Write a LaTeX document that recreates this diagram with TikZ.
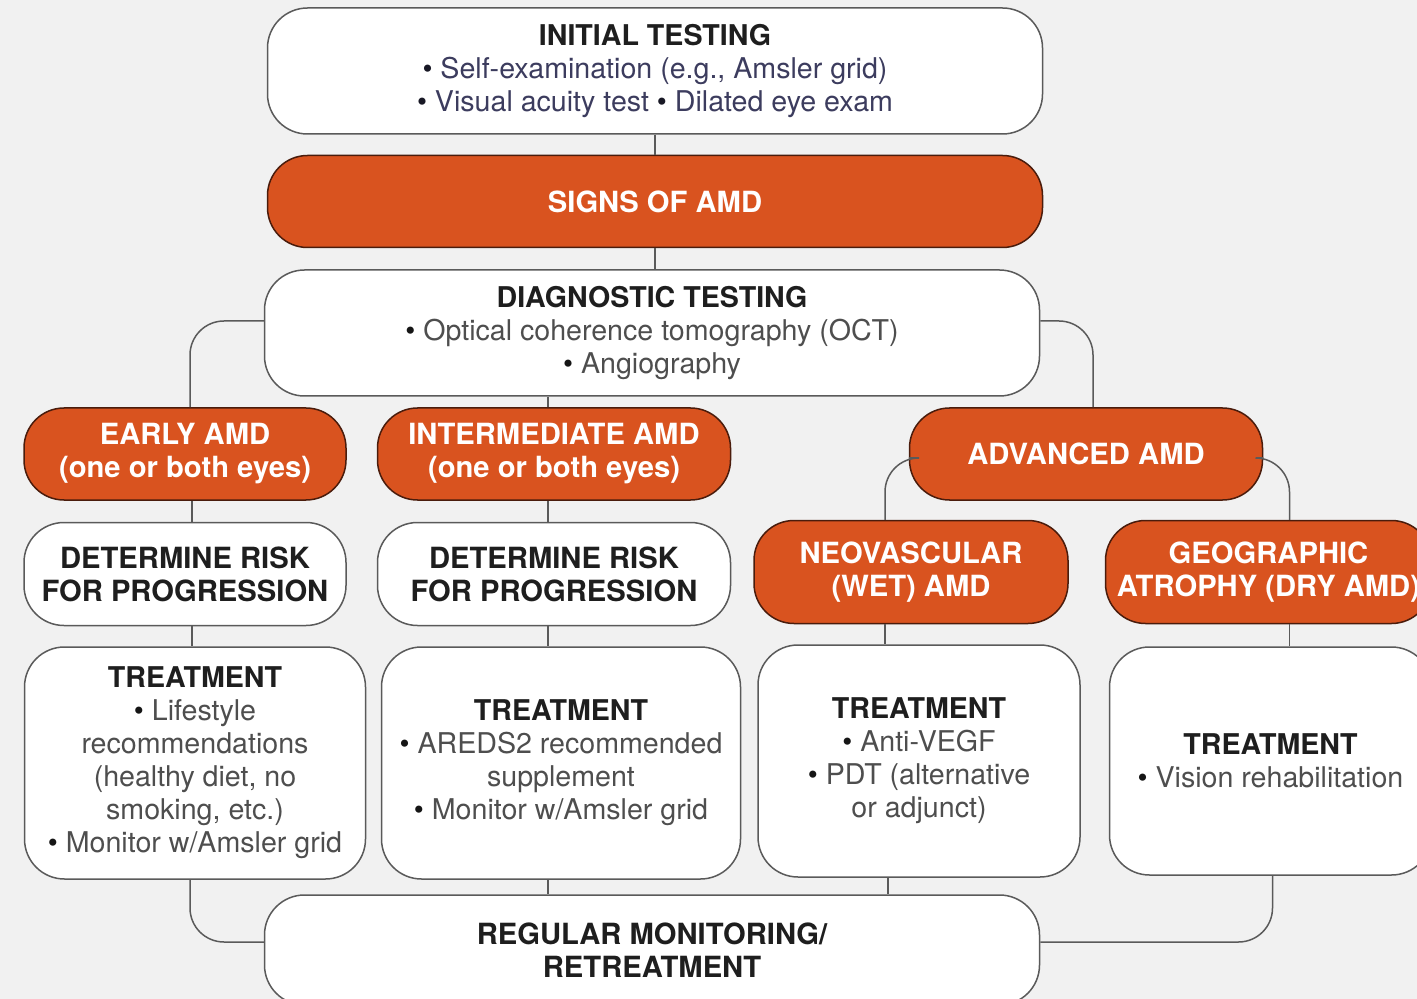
\documentclass[tikz,border=0pt]{standalone}
\usepackage{fontspec}
\setmainfont{TeX Gyre Heros}
\usepackage{tikz}
\usetikzlibrary{calc,positioning}

\definecolor{bgcol}{HTML}{F1F1F1}
\definecolor{amdorange}{HTML}{D9531F}
\definecolor{amdedge}{HTML}{4A1C0C}
\definecolor{boxedge}{HTML}{5A5A5A}
\definecolor{titlecol}{HTML}{1E1E1E}
\definecolor{bodycol}{HTML}{4E4E4E}
\definecolor{navycol}{HTML}{3C3C5E}
\definecolor{bulletcol}{HTML}{151515}

\newcommand{\bul}{{\color{bulletcol}\textbullet}}

\begin{document}
\begin{tikzpicture}[x=0.5pt,y=-0.5pt]
    \tikzstyle{whitebox}=[rectangle, rounded corners=20pt, draw=boxedge, line width=0.75pt, fill=white,
        align=center, inner sep=0pt, text=bodycol, font=\fontsize{14.3}{16.5}\selectfont]
    \tikzstyle{amdbox}=[whitebox, draw=amdedge, fill=amdorange, text=white, font=\fontsize{14.6}{16.5}\selectfont\bfseries]
    \tikzstyle{link}=[draw=boxedge, line width=0.75pt, rounded corners=17pt]

    \useasboundingbox (0,0) rectangle (1417,999);
    \fill[bgcol] (0,0) rectangle (1417,999);

    % top column
    \node[whitebox, minimum width=387.5pt, minimum height=63pt, text=navycol] (init) at (655,71)
        {{\color{titlecol}\bfseries INITIAL TESTING}\\
         {\color{navycol!40!black}\textbullet} Self-examination (e.g., Amsler grid)\\
         {\color{navycol!40!black}\textbullet} Visual acuity test {\color{navycol!40!black}\textbullet} Dilated eye exam};
    \node[amdbox, minimum width=387.5pt, minimum height=46pt] (signs) [below=10pt of init] {SIGNS OF AMD};
    \node[whitebox, minimum width=387.5pt, minimum height=63pt] (diag) [below=10.5pt of signs, xshift=-1.5pt]
        {{\color{titlecol}\bfseries DIAGNOSTIC TESTING}\\
         \bul{} Optical coherence tomography (OCT)\\
         \bul{} Angiography};

    % stages
    \node[amdbox, minimum width=161pt, minimum height=46pt] (early) at (185,454) {EARLY AMD\\(one or both eyes)};
    \node[amdbox, minimum width=176.5pt, minimum height=46pt] (inter) [right=15pt of early] {INTERMEDIATE AMD\\(one or both eyes)};
    \node[amdbox, minimum width=176.5pt, minimum height=46pt] (adv) at (1086,454) {ADVANCED AMD};

    \node[whitebox, minimum width=161pt, minimum height=51.5pt, font=\fontsize{14.6}{16.5}\selectfont\bfseries, text=titlecol]
        (risk1) [below=10.5pt of early] {DETERMINE RISK\\FOR PROGRESSION};
    \node[whitebox, minimum width=176.5pt, minimum height=51.5pt, font=\fontsize{14.6}{16.5}\selectfont\bfseries, text=titlecol]
        (risk2) [below=10.5pt of inter] {DETERMINE RISK\\FOR PROGRESSION};
    \node[amdbox, minimum width=157pt, minimum height=51.5pt] (neo) at (911,572) {NEOVASCULAR\\(WET) AMD};
    \node[amdbox, minimum width=163pt, minimum height=51.5pt] (geo) [right=18pt of neo] {GEOGRAPHIC\\ATROPHY (DRY AMD)};

    % treatments
    \node[whitebox, minimum width=170.5pt, minimum height=116pt] (treat1) [below=10pt of risk1, xshift=5pt]
        {{\color{titlecol}\bfseries TREATMENT}\\
         \bul{} Lifestyle\\ recommendations\\ (healthy diet, no\\ smoking, etc.)\\
         \bul{} Monitor w/Amsler grid};
    \node[whitebox, minimum width=179.5pt, minimum height=116pt] (treat2) [below=10pt of risk2, xshift=3.5pt]
        {{\color{titlecol}\bfseries TREATMENT}\\
         \bul{} AREDS2 recommended\\ supplement\\
         \bul{} Monitor w/Amsler grid};
    \node[whitebox, minimum width=161pt, minimum height=116pt] (treat3) [below=10pt of neo, xshift=4pt]
        {{\color{titlecol}\bfseries TREATMENT}\\
         \bul{} Anti-VEGF\\
         \bul{} PDT (alternative\\ or adjunct)};
    \node[whitebox, minimum width=161pt, minimum height=114pt] (treat4) [below=11pt of geo, xshift=1pt]
        {{\color{titlecol}\bfseries TREATMENT}\\
         \bul{} Vision rehabilitation};

    \node[whitebox, minimum width=387.5pt, minimum height=55pt, font=\fontsize{14.6}{16.5}\selectfont\bfseries, text=titlecol]
        (regular) at (652,950) {REGULAR MONITORING/\\RETREATMENT};

    % connectors
    \draw[link] (init.south) -- (signs.north);
    \draw[link] (signs.south) -- (signs.south |- diag.north);
    \draw[link] ([yshift=6pt]diag.west) -| ([xshift=2.5pt]early.north);
    \draw[link] ([xshift=-3pt]inter.north) -- ([xshift=-3pt]inter.north |- diag.south);
    \draw[link] ([yshift=6pt]diag.east) -| ([xshift=3.5pt]adv.north);
    \draw[link] ([yshift=-2pt]adv.west) -| ([xshift=-13pt]neo.north);
    \draw[link] ([yshift=-2pt]adv.east) -| ([xshift=10.5pt]geo.north);

    \draw[link] ([xshift=3.5pt]early.south) -- ([xshift=3.5pt]early.south |- risk1.north);
    \draw[link] ([xshift=3.5pt]risk1.south) -- ([xshift=3.5pt]risk1.south |- treat1.north);
    \draw[link] ([xshift=-3pt]inter.south) -- ([xshift=-3pt]inter.south |- risk2.north);
    \draw[link] ([xshift=-3pt]risk2.south) -- ([xshift=-3pt]risk2.south |- treat2.north);
    \draw[link] ([xshift=-13pt]neo.south) -- ([xshift=-13pt]neo.south |- treat3.north);
    \draw[link] ([xshift=10.5pt]geo.south) -- ([xshift=10.5pt]geo.south |- treat4.north);

    \draw[link] ([xshift=-2.5pt]treat1.south) |- ([yshift=4pt]regular.west);
    \draw[link] ([xshift=-6.5pt]treat2.south) -- ([xshift=-6.5pt]treat2.south |- regular.north);
    \draw[link] ([xshift=-15.5pt]treat3.south) -- ([xshift=-15.5pt]treat3.south |- regular.north);
    \draw[link] ([xshift=1pt]treat4.south) |- ([yshift=4pt]regular.east);
\end{tikzpicture}
\end{document}
